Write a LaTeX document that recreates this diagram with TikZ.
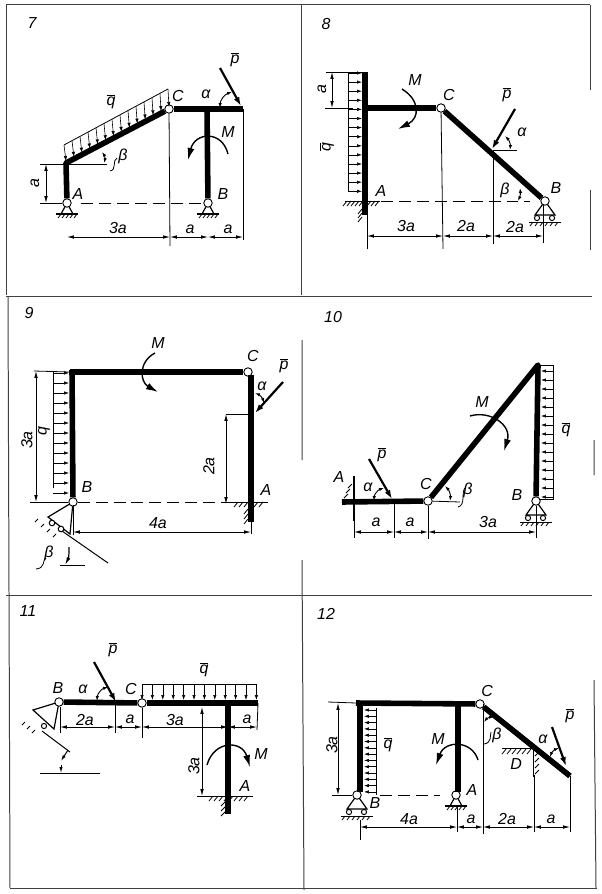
\documentclass[tikz,border=0pt]{standalone}
\usepackage{fontspec}
\setmainfont{Liberation Sans}
\usetikzlibrary{arrows.meta,calc}
\tikzset{
  bar/.style={line width=5.6pt,line join=round},
  thinl/.style={line width=0.8pt},
  framel/.style={line width=1pt,black!75},
  dashl/.style={line width=0.9pt,dash pattern=on 12pt off 6pt},
  dimline/.style={line width=0.8pt,{Latex[length=7pt,width=3.6pt]}-{Latex[length=7pt,width=3.6pt]}},
  loadarr/.style={line width=0.6pt,-{Latex[length=5pt,width=3.4pt]}},
  forcel/.style={line width=2.2pt,-{Latex[length=9pt,width=6pt]}},
  anglel/.style={line width=0.9pt,{Latex[length=5pt,width=3.4pt]}-{Latex[length=5pt,width=3.4pt]}},
  momentl/.style={line width=1.4pt,-{Latex[length=12pt,width=7pt]}},
  hinge/.style={circle,draw,fill=white,line width=0.9pt,minimum size=8.5pt,inner sep=0pt},
  lbl/.style={inner sep=0pt,font=\fontsize{16}{16}\selectfont\itshape},
  pinsup/.pic={
    \draw[line width=1.2pt] (-6,11) -- (0,0) -- (6,11);
    \draw[line width=1.2pt] (-11,11) -- (11,11);
    \foreach \i in {-8,-4,0,4,8} { \draw[thinl] (\i+2,11) -- ++(-3,4); }
  },
  rollsup/.pic={
    \draw[line width=1.2pt] (-10,14) -- (0,0) -- (10,14) -- cycle;
    \draw[line width=1pt,fill=white] (-8,17) circle (2.6);
    \draw[line width=1pt,fill=white] (7,17) circle (2.6);
    \draw[line width=0.9pt] (-16,21) -- (16,21);
    \foreach \i in {-14,-9,-4,1,6,11} { \draw[thinl] (\i+2,21) -- ++(-3,4); }
  }
}
\newcommand{\hatchrow}[4]{\foreach \i in {#1,#2,...,#3} { \draw[thinl] (\i,#4) -- ++(-4,5); }}
\newcommand{\pbar}{$\overline{\mbox{\itshape p}}$}
\newcommand{\qbar}{$\overline{\mbox{\itshape q}}$}
\begin{document}
\begin{tikzpicture}[x=1bp,y=-1bp]
\useasboundingbox (0,0) rectangle (602,894);
% frame lines of the sheet
\draw[framel] (6,4) -- (590,4);
\draw[framel] (6,4) -- (6,295);
\draw[framel] (301,4) -- (301,295);
\draw[framel] (590,5) -- (590,90) (590,190) -- (590,250);
\draw[framel] (6,296) -- (592,296);
\draw[framel] (8,296) -- (10,888);
\draw[framel] (302,340) -- (302,460) (302,560) -- (304,890);
\draw[framel] (10,888) -- (597,888);
\draw[framel] (594,680) -- (596,888) (594,440) -- (594,475);
\draw[framel] (6,595) -- (592,595);

% 7
\node[lbl] (n7) at (32,23) {7};
\pic at (67,203) {pinsup};
\pic at (208,203) {pinsup};
\node[hinge] (A7) at (67,203) {};
\node[hinge] (B7) at (208,203) {};
\node[hinge] (C7) at (169,109) {};
\coordinate (K7) at (66,163);
\coordinate (E7) at (243,109);
\coordinate (T7) at (207,109);
\coordinate (Q7) at (64,145);
\coordinate (R7) at (168,89);
\draw[bar] (A7) -- (K7) -- (C7);
\draw[bar] (C7) -- (E7);
\draw[bar] (T7) -- (B7);
\draw[thinl] (Q7) -- (R7);
\foreach \i in {0,...,13} {
  \draw[loadarr] ($(Q7)!\i/13!(R7)$) -- ($(K7)!\i/13!(C7)+(0,-2)$);
}
\draw[dashl] (A7)++(14,0) -- (B7);
\draw[thinl] (40,164) -- (107,164);
\draw[thinl] (40,203) -- (A7);
\draw[thinl] (C7) -- (170,246);
\draw[thinl] (E7) -- (243,240);
\draw[dimline] (46,164) -- (46,203);
\draw[dimline] (67,237) -- (170,237);
\draw[dimline] (170,237) -- (208,237);
\draw[dimline] (208,237) -- (243,237);
\draw[forcel] (220,68) -- (241,106);
\draw[anglel] (220,108) to[bend left=35] (232,92);
\draw[anglel] (102,152) to[bend left=25] (104,163);
\draw[thinl] (110,171) .. controls (117,170) and (112,160) .. (117,158);
\draw[momentl] (228,154) .. controls (222,130) and (195,132) .. (188,160);
\node[lbl] (a7) at (35,183) [rotate=90] {a};
\node[lbl] (q7) at (111,102) {\qbar};
\node[lbl] (c7) at (178,96) {C};
\node[lbl] (al7) at (206,94) {α};
\node[lbl] (p7) at (235,60) {\pbar};
\node[lbl] (m7) at (228,132) {M};
\node[lbl] (b7) at (223,194) {B};
\node[lbl] (l7) at (78,194) {A};
\node[lbl] (be7) at (123,156) {β};
\node[lbl] (d71) at (118,228) {3a};
\node[lbl] (d72) at (190,229) {a};
\node[lbl] (d73) at (228,229) {a};

% 8
\node[lbl] (n8) at (326,24) {8};
\pic at (545,201) {rollsup};
\node[hinge] (B8) at (545,201) {};
\node[hinge] (C8) at (441,108) {};
\coordinate (T8) at (365,72);
\coordinate (F8) at (365,215);
\coordinate (J8) at (367,108);
\coordinate (D8) at (493,150);
\draw[bar] (T8) -- (F8);
\draw[bar] (J8) -- (C8);
\draw[bar] (C8) -- (B8);
\draw[thinl] (348,73) -- (348,192);
\foreach \i in {0,...,13} {
  \draw[loadarr] (348,73+\i*9.1) -- (362,73+\i*9.1);
}
\draw[line width=0.9pt] (345,201) -- (380,201);
\hatchrow{347}{351}{379}{201}
\foreach \i in {0,4,8} { \draw[thinl] (362,209+\i) -- ++(-4,5); }
\draw[dashl] (381,201) -- (530,201);
\draw[thinl] (326,72) -- (T8);
\draw[thinl] (325,108) -- (353,108);
\draw[thinl] (367,215) -- (367,249);
\draw[thinl] (C8) -- (443,249);
\draw[thinl] (D8) -- (493,244);
\draw[thinl] (D8) -- (517,150);
\draw[thinl] (543,205) -- (543,243);
\draw[dimline] (332,72) -- (332,108);
\draw[dimline] (367,236) -- (443,236);
\draw[dimline] (443,236) -- (493,236);
\draw[dimline] (493,236) -- (543,236);
\draw[forcel] (515,109) -- (492,149);
\draw[anglel] (505,136) to[bend left=25] (510,150);
\draw[anglel] (520,188) to[bend left=15] (518,201);
\draw[momentl] (402,89) .. controls (420,100) and (420,118) .. (398,129);
\node[lbl] (a8) at (322,89) [rotate=90] {a};
\node[lbl] (q8) at (327,147) [rotate=90] {\qbar};
\node[lbl] (m8) at (415,80) {M};
\node[lbl] (c8) at (449,95) {C};
\node[lbl] (p8) at (507,95) {\pbar};
\node[lbl] (al8) at (522,132) {α};
\node[lbl] (be8) at (505,190) {β};
\node[lbl] (b8) at (556,188) {B};
\node[lbl] (l8) at (381,191) {A};
\node[lbl] (d81) at (406,226) {3a};
\node[lbl] (d82) at (466,226) {2a};
\node[lbl] (d83) at (515,227) {2a};

% 9
\node[lbl] (n9) at (29,313) {9};
% inclined support
\draw[line width=1.2pt] (48,517) -- (73,502) -- (70,534) -- cycle;
\draw[line width=1pt,fill=white] (52,523) circle (2.8);
\draw[line width=1pt,fill=white] (61,529) circle (2.8);
\draw[line width=1pt] (62,531) -- (108,563);
\foreach \i in {0,...,3} { \draw[thinl] (38+\i*6,519+\i*5) -- ++(-3,3); }
\node[hinge] (B9) at (73,502) {};
\node[hinge] (C9) at (248,372) {};
\coordinate (T9) at (70,372);
\coordinate (F9) at (251,522);
\coordinate (D9) at (253,414);
\draw[bar] (B9) -- (72,370);
\draw[bar] (T9) -- (C9);
\draw[bar] (251,375) -- (F9);
\draw[thinl] (53,372) -- (53,488);
\foreach \i in {0,...,12} {
  \draw[loadarr] (53,373+\i*10) -- (69,373+\i*10);
}
\draw[dashl] (B9) -- (233,502);
\draw[line width=0.9pt] (233,502) -- (268,502);
\hatchrow{238}{243}{266}{502}
\foreach \i in {0,5,10} { \draw[thinl] (248,509+\i) -- ++(-4,5); }
\draw[thinl] (34,371) -- (T9);
\draw[thinl] (30,502) -- (B9);
\draw[thinl] (226,414) -- (D9);
\draw[thinl] (73,505) -- (73,535);
\draw[thinl] (F9) -- (251,534);
\draw[dimline] (36,371) -- (36,502);
\draw[dimline] (226,414) -- (226,504);
\draw[dimline] (73,532) -- (251,532);
\draw[forcel] (283,382) -- (255,413);
\draw[anglel] (255,393) to[bend left=25] (264,403);
\draw[momentl] (155,353) .. controls (138,362) and (140,382) .. (158,392);
\draw[thinl] (60,565) -- (85,565);
\draw[line width=1.2pt,-{Latex[length=8pt,width=4pt]}] (69,547) to[bend left=15] (65,565);
\draw[thinl] (36,569) .. controls (46,568) and (42,560) .. (46,558);
\node[lbl] (a9) at (27,440) [rotate=90] {3a};
\node[lbl] (q9) at (43,431) [rotate=90] {\qbar};
\node[lbl] (m9) at (158,343) {M};
\node[lbl] (c9) at (253,356) {C};
\node[lbl] (p9) at (284,366) {\pbar};
\node[lbl] (al9) at (262,386) {α};
\node[lbl] (h9) at (209,466) [rotate=90] {2a};
\node[lbl] (l9) at (266,490) {A};
\node[lbl] (b9) at (87,487) {B};
\node[lbl] (d9) at (158,523) {4a};
\node[lbl] (be9) at (49,553) {β};

% 10
\node[lbl] (n10) at (333,317) {10};
\pic at (536,501) {rollsup};
\node[hinge] (B10) at (536,501) {};
\node[hinge] (C10) at (428,501) {};
\coordinate (A10) at (342,502);
\coordinate (T10) at (538,365);
\coordinate (D10) at (394,502);
\draw[bar] (A10) -- (C10);
\draw[bar] (C10) -- (T10) -- (B10);
\draw[line width=1.3pt] (354,476) -- (354,521);
\foreach \i in {0,...,3} { \draw[thinl] (352-\i*2,484+\i*5) -- ++(-4,4); }
\draw[thinl] (T10) -- (553,365) -- (553,499) -- (540,499);
\foreach \i in {0,...,14} {
  \draw[loadarr] (553,371+\i*9) -- (541,371+\i*9);
}
\draw[thinl] (C10) -- (460,502);
\draw[thinl] (354,521) -- (354,538);
\draw[thinl] (D10) -- (394,538);
\draw[thinl] (C10) -- (428,539);
\draw[thinl] (B10) -- (536,538);
\draw[dimline] (354,532) -- (394,532);
\draw[dimline] (394,532) -- (428,532);
\draw[dimline] (428,532) -- (536,532);
\draw[forcel] (369,459) -- (392,499);
\draw[anglel] (374,501) to[bend left=35] (384,488);
\draw[anglel] (445,486) to[bend left=25] (450,501);
\draw[thinl] (458,507) .. controls (466,505) and (461,492) .. (465,488);
\draw[momentl] (470,416) .. controls (490,410) and (512,425) .. (504,451);
\node[lbl] (l10) at (339,477) {A};
\node[lbl] (p10) at (382,455) {\pbar};
\node[lbl] (al10) at (368,487) {α};
\node[lbl] (c10) at (426,484) {C};
\node[lbl] (be10) at (468,490) {β};
\node[lbl] (m10) at (482,402) {M};
\node[lbl] (q10) at (566,430) {\qbar};
\node[lbl] (b10) at (517,495) {B};
\node[lbl] (d101) at (376,522) {a};
\node[lbl] (d102) at (410,522) {a};
\node[lbl] (d103) at (488,522) {3a};

% 11
\node[lbl] (n11) at (28,611) {11};
% inclined support
\draw[line width=1.2pt] (33,710) -- (59,702) -- (54,729) -- cycle;
\draw[line width=1pt,fill=white] (44,726) circle (2.6);
\draw[line width=1pt] (42,731) -- (70,752);
\foreach \i in {0,...,2} { \draw[thinl] (25+\i*5,722+\i*4) -- ++(-3,3); }
\node[hinge] (B11) at (59,702) {};
\node[hinge] (C11) at (142,703) {};
\coordinate (E11) at (258,703);
\coordinate (T11) at (228,703);
\coordinate (F11) at (228,814);
\draw[bar] (B11) -- (C11);
\draw[bar] (C11) -- (E11);
\draw[bar] (T11) -- (F11);
\draw[thinl] (C11) ++(0,-19) -- (257,684);
\foreach \i in {0,...,11} {
  \draw[loadarr] (142+\i*10.4,684) -- (142+\i*10.4,700);
}
\draw[line width=0.9pt] (197,796) -- (253,796);
\hatchrow{213}{218}{250}{796}
\foreach \i in {0,5,10} { \draw[thinl] (226,801+\i) -- ++(-5,5); }
\draw[thinl] (60,707) -- (60,733);
\draw[thinl] (115,703) -- (115,733);
\draw[thinl] (C11) -- (142,738);
\draw[thinl] (E11) -- (257,730);
\draw[dimline] (60,727) -- (115,727);
\draw[dimline] (115,727) -- (142,727);
\draw[dimline] (142,727) -- (228,727);
\draw[dimline] (228,727) -- (257,727);
\draw[dimline] (202,707) -- (202,796);
\draw[forcel] (94,662) -- (116,702);
\draw[anglel] (97,701) to[bend left=35] (108,687);
\draw[momentl] (207,765) .. controls (214,740) and (242,740) .. (250,767);
\draw[thinl] (40,773) -- (100,773);
\draw[line width=1pt,-{Latex[length=6pt,width=3.4pt]}] (68,750) -- (61,761);
\draw[line width=1pt,-{Latex[length=6pt,width=3.4pt]}] (61,765) -- (61,773);
\node[lbl] (b11) at (58,688) {B};
\node[lbl] (al11) at (83,689) {α};
\node[lbl] (p11) at (113,650) {\pbar};
\node[lbl] (c11) at (131,689) {C};
\node[lbl] (q11) at (204,670) {\qbar};
\node[lbl] (d111) at (85,720) {2a};
\node[lbl] (d112) at (130,719) {a};
\node[lbl] (d113) at (175,720) {3a};
\node[lbl] (d114) at (247,719) {a};
\node[lbl] (h11) at (194,766) [rotate=90] {3a};
\node[lbl] (m11) at (261,754) {M};
\node[lbl] (l11) at (245,786) {A};

% 12
\node[lbl] (n12) at (326,614) {12};
\pic at (357,795) {rollsup};
\pic at (456,795) {pinsup};
\node[hinge] (B12) at (357,795) {};
\node[hinge] (A12) at (456,795) {};
\node[hinge] (C12) at (480,704) {};
\coordinate (K12) at (356,703);
\coordinate (T12) at (458,703);
\coordinate (E12) at (570,776);
\draw[bar] (K12) -- (C12);
\draw[bar] (360,703) -- (360,792);
\draw[bar] (T12) -- (458,792);
\draw[bar] (C12) -- (E12);
\draw[thinl] (376,708) -- (376,795);
\foreach \i in {0,...,13} {
  \draw[loadarr] (376,710+\i*6.3) -- (364,710+\i*6.3);
}
\draw[line width=0.9pt] (502,748) -- (533,748);
\draw[line width=0.9pt] (533,748) -- (533,777);
\hatchrow{506}{511}{531}{749}
\foreach \i in {0,...,3} { \draw[thinl] (539,752+\i*6) -- (535,756+\i*6); }
\draw[dashl] (380,795) -- (440,795);
\draw[thinl] (328,702) -- (K12);
\draw[thinl] (332,795) -- (B12);
\draw[thinl] (360,820) -- (360,840);
\draw[thinl] (457,806) -- (457,832);
\draw[thinl] (C12) ++(3,0) -- (483,834);
\draw[thinl] (534,775) -- (534,832);
\draw[thinl] (E12) -- (570,832);
\draw[dimline] (338,703) -- (338,795);
\draw[dimline] (360,827) -- (457,827);
\draw[dimline] (457,827) -- (483,827);
\draw[dimline] (483,827) -- (534,827);
\draw[dimline] (534,827) -- (570,827);
\draw[forcel] (552,727) -- (566,766);
\draw[anglel] (550,757) to[bend left=25] (559,748);
\draw[anglel] (484,722) to[bend left=25] (494,717);
\draw[thinl] (484,744) .. controls (492,743) and (490,735) .. (491,732);
\draw[momentl] (478,760) .. controls (472,740) and (445,740) .. (436,765);
\node[lbl] (c12) at (487,691) {C};
\node[lbl] (be12) at (497,735) {β};
\node[lbl] (al12) at (543,739) {α};
\node[lbl] (p12) at (570,716) {\pbar};
\node[lbl] (d12) at (516,764) {D};
\node[lbl] (m12) at (438,739) {M};
\node[lbl] (q12) at (388,745) {\qbar};
\node[lbl] (h12) at (332,745) [rotate=90] {3a};
\node[lbl] (l12) at (472,790) {A};
\node[lbl] (b12) at (375,803) {B};
\node[lbl] (d121) at (409,819) {4a};
\node[lbl] (d122) at (471,819) {a};
\node[lbl] (d123) at (507,819) {2a};
\node[lbl] (d124) at (551,819) {a};
\end{tikzpicture}
\end{document}
